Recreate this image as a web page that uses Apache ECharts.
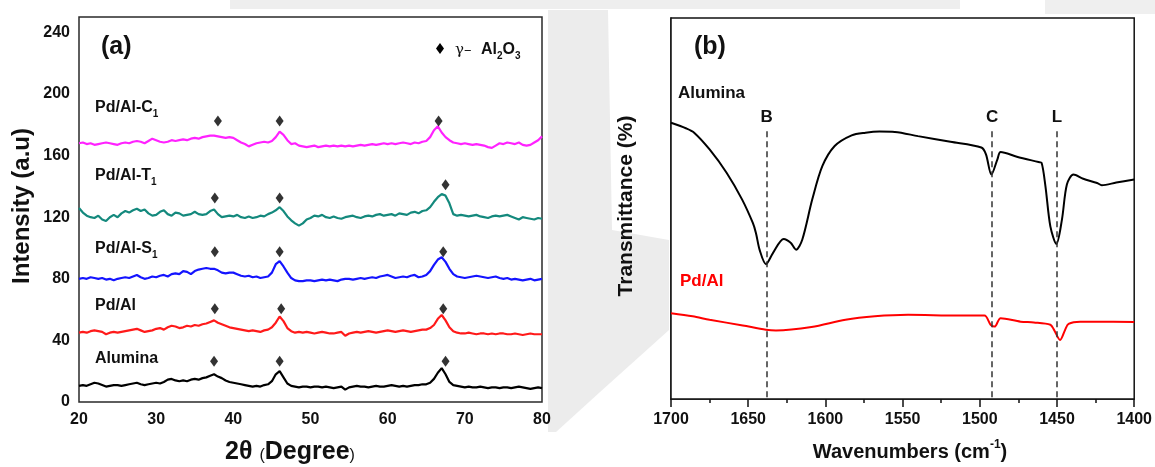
<!DOCTYPE html>
<html>
<head>
<meta charset="utf-8">
<script src="https://cdn.jsdelivr.net/npm/echarts@6/dist/echarts.min.js"></script>
<style>
  html, body { margin: 0; padding: 0; background: #ffffff; }
  #chart { width: 1155px; height: 467px; }
</style>
</head>
<body>
<div id="chart"></div>
<script>
// ---------- (a) XRD patterns: 2θ from 20° to 80°, one reading every 0.5° ----------
const angleStart = 20;
const angleStep = 0.5;

const xrdAlumina = [
  10.5, 11, 10.5, 11.5, 12.5, 12, 11, 10, 10.5, 11,
  11, 10.5, 11, 11.5, 12, 12.5, 11.5, 11, 11.5, 12,
  12.5, 12, 13, 14.5, 15, 14, 13.5, 14, 13.5, 14.5,
  15, 14.5, 15.5, 16, 17, 18, 16.5, 15.5, 14, 13,
  12.5, 12, 11.5, 11, 10.5, 10, 10.5, 10, 11, 11.5,
  13.5, 18, 20, 16, 12, 10.5, 10, 9.5, 10, 10,
  9.5, 10, 10, 9.5, 10, 9.5, 9, 9.5, 10, 8,
  9.5, 10, 10.5, 10, 10, 9.5, 10, 10.5, 10, 10,
  10.5, 11, 10.5, 10, 10.5, 10, 10.5, 11, 11, 11.5,
  11.5, 12.5, 15, 19, 22, 18, 13, 11, 10.5, 10,
  9.5, 10, 9.5, 9.5, 10, 9.5, 9, 9.5, 9.5, 9,
  9.5, 9.5, 9, 9.5, 10, 9.5, 9, 8.5, 9, 9.5,
  9
];

const xrdPdAl = [
  45, 45.5, 45, 46, 46.5, 46, 45.5, 44, 45, 45.5,
  45, 45.5, 46, 46.5, 47, 47.5, 46.5, 45.5, 46, 46.5,
  47.5, 48, 47, 48.5, 49.5, 49, 48, 48.5, 49.5, 49,
  50, 49.5, 50.5, 51, 52, 53, 51.5, 50.5, 49.5, 48.5,
  48, 47.5, 47, 46.5, 46, 46.5, 46, 45.5, 46.5, 47,
  48.5, 51.5, 55.5, 52.5, 48, 46, 45, 45.5, 45, 45.5,
  45, 44.5, 45, 45.5, 45, 44.5, 44.5, 45, 45.5, 43,
  44.5, 45, 45.5, 45, 45.5, 46, 45.5, 45, 45.5, 46,
  46.5, 46, 45.5, 46, 46.5, 46, 45.5, 46, 46.5, 47,
  47, 48, 50, 54, 56.5, 53, 48.5, 46, 45, 44.5,
  44.5, 45, 44.5, 44, 44.5, 44.5, 44, 44.5, 44, 44.5,
  44.5, 44, 44, 44.5, 44, 43.5, 44, 44.5, 44, 44,
  44
];

const xrdPdAlS1 = [
  80, 80.5, 80, 81, 80.5, 80, 80.5, 79.5, 80, 79,
  80, 80.5, 81, 80.5, 81.5, 82.5, 81, 80, 80.5, 81.5,
  81, 82, 82.5, 81.5, 83, 83.5, 83, 85, 84.5, 83,
  85, 86, 86.5, 87, 86.5, 86.5, 85.5, 84, 83.5, 84,
  84, 83, 82, 81.5, 82, 81, 81.5, 80.5, 81, 81.5,
  84, 89.5, 91.5, 88, 84, 80.5, 79, 78.5, 78.5, 79,
  79, 78.5, 79, 79.5, 79, 79.5, 79, 78.5, 79.5, 80,
  80, 79.5, 80, 80.5, 80, 80.5, 81, 80.5, 81.5, 82,
  82.5, 81.5, 80.5, 81, 81.5, 81, 82, 82.5, 81, 81.5,
  82.5, 85, 89, 92.5, 94, 91, 86.5, 83, 81.5, 81,
  80.5, 81, 81.5, 82, 81.5, 81, 80.5, 81, 81.5, 80.5,
  80, 80.5, 79.5, 80, 79.5, 79, 79.5, 80, 79, 79.5,
  80
];

const xrdPdAlT1 = [
  126, 123, 121, 120, 119.5, 121, 118.5, 117.5, 120, 121.5,
  120, 122.5, 124, 123, 124.5, 125.5, 124, 125, 122.5, 121,
  121.5, 123.5, 124.5, 122, 121, 123, 122.5, 121, 121.5, 122,
  123.5, 122, 121.5, 122, 124, 125, 122, 120, 120.5, 121,
  120.5, 121.5, 120, 119.5, 120.5, 119.5, 120, 121, 120.5, 122,
  123, 124.5, 126.5, 124, 120.5, 118, 116, 114.5, 116, 118.5,
  119.5, 121, 120.5, 121.5, 120, 119.5, 120.5, 119.5, 119, 120,
  120.5, 121, 120, 119.5, 120.5, 121, 120.5, 121.5, 122, 121,
  121.5, 122, 121, 122.5, 122, 121.5, 123, 123.5, 122.5, 124,
  124.5, 126.5, 130, 133, 135, 134, 129, 122, 121, 121.5,
  121, 120.5, 121, 121.5, 120.5, 120, 119.5, 120.5, 121, 120.5,
  121, 121.5, 120.5, 119.5, 118.5, 120, 119.5, 119, 118.5, 119.5,
  119
];

const xrdPdAlC1 = [
  168, 168.5, 167.5, 168, 167, 167.5, 168, 168.5, 168, 167.5,
  167, 168, 168.5, 168, 169, 169.5, 169, 168, 169.5, 171,
  170, 169, 168.5, 169, 170, 169.5, 170, 170.5, 170, 171,
  171.5, 171, 172, 172.5, 173, 173, 172.5, 172, 171.5, 172,
  171.5, 170, 168.5, 167.5, 166, 167, 168, 168.5, 169, 168.5,
  169.5, 172, 175.5, 173.5, 170, 167.5, 168, 166.5, 166, 165.5,
  166, 166.5, 165.5, 166, 166.5, 166, 166.5, 166, 166.5, 166,
  166.5, 166, 166.5, 167, 166.5, 167, 167.5, 167, 167.5, 168,
  167.5, 168, 167.5, 168, 168.5, 168, 167.5, 168.5, 168, 169,
  169.5, 172, 176.5, 179, 175, 172, 170, 168.5, 168, 167.5,
  168, 167.5, 167, 167.5, 167, 166.5, 165.5, 165, 166.5, 168,
  167.5, 168.5, 168, 167.5, 168.5, 167, 166.5, 167, 168.5, 170,
  172.5
];

// γ-Al2O3 reflections marked above each pattern: [2θ, intensity]
const markAlumina = [[37.5, 26.5], [46.0, 26.5], [67.5, 26.5]];
const markPdAl    = [[37.6, 60.5], [46.2, 60.5], [67.2, 60.5]];
const markPdAlS1  = [[37.6, 97.5], [46.0, 97.5], [67.2, 97.5]];
const markPdAlT1  = [[37.6, 132.5], [46.0, 132.5], [67.5, 141]];
const markPdAlC1  = [[38.0, 182.5], [46.0, 182.5], [66.6, 182.5]];

const xrdTicks = [20, 30, 40, 50, 60, 70, 80];
const intensityTicks = [0, 40, 80, 120, 160, 200, 240];

// ---------- (b) FTIR of adsorbed pyridine: [wavenumber, transmittance] ----------
const ftirAlumina = [
  [1700, 72.5], [1690, 71.0], [1685, 69.9], [1675, 65.5], [1664, 59.4],
  [1654, 52.4], [1647, 46.2], [1645, 43.6], [1642.5, 39.0], [1638.5, 35.4],
  [1634, 38.3], [1627, 42.0], [1622.5, 41.0], [1619, 39.2], [1615, 41.8],
  [1608.5, 52.4], [1602, 61.1], [1594, 66.4], [1583, 69.2], [1574, 69.9],
  [1565, 70.2], [1555, 70.1], [1540, 69.0], [1519, 67.5], [1499, 66.0],
  [1496, 64.2], [1492.5, 58.9], [1488.6, 62.9], [1486.5, 64.8], [1476, 63.6],
  [1462, 62.2], [1460, 62.0], [1457.5, 55.9], [1454.3, 45.3], [1450.4, 40.7],
  [1446.8, 47.1], [1443.6, 56.3], [1439.3, 58.9], [1433, 57.8], [1424, 56.7],
  [1421, 56.1], [1411.6, 56.8], [1400, 57.6]
];

const ftirPdAl = [
  [1700, 22.5], [1686, 21.7], [1675, 20.8], [1653.5, 19.3], [1638.5, 18.2],
  [1632, 18.0], [1609, 18.9], [1587, 20.8], [1568, 21.7], [1546.5, 22.1],
  [1514, 21.9], [1497, 21.9], [1493, 19.5], [1490.4, 19.0], [1486.5, 21.2],
  [1473.6, 20.3], [1465, 20.1], [1454.3, 19.5], [1452, 18.2], [1448, 15.5],
  [1444.7, 18.2], [1442.5, 19.7], [1435, 20.3], [1424, 20.3], [1400, 20.2]
];

// Brønsted (B), coordinated (C) and Lewis (L) pyridine bands
const bandNames = ['B', 'C', 'L'];
const bandWavenumbers = [1638, 1492, 1450];
const bandLineTop = 70.3;

const wavenumberTicks = [1700, 1650, 1600, 1550, 1500, 1450, 1400];

// ---------- styling ----------
const FONT = '"Liberation Sans", Arial, Helvetica, sans-serif';
const INK = '#111111';

function xrdSeries(name, values, color) {
  return {
    name: name,
    type: 'line',
    xAxisIndex: 0,
    yAxisIndex: 0,
    showSymbol: false,
    symbol: 'none',
    smooth: false,
    lineStyle: { color: color, width: 2.2 },
    data: values.map((v, i) => [angleStart + i * angleStep, v])
  };
}

const diamondData = [].concat(markAlumina, markPdAl, markPdAlS1, markPdAlT1, markPdAlC1);

function richLabel(x, y, parts, opts) {
  return {
    type: 'text',
    x: x,
    y: y,
    z: 10,
    rotation: (opts && opts.rotation) || 0,
    style: {
      text: parts,
      align: (opts && opts.align) || 'left',
      verticalAlign: 'middle',
      fill: INK,
      rich: (opts && opts.rich) || {}
    }
  };
}

const sampleRich = {
  m: { fontFamily: FONT, fontWeight: 'bold', fontSize: 16, fill: INK, lineHeight: 22 },
  s: { fontFamily: FONT, fontWeight: 'bold', fontSize: 10, fill: INK, lineHeight: 22, verticalAlign: 'bottom' }
};

const plainNumber = v => String(v);

const chart = echarts.init(document.getElementById('chart'), null, { renderer: 'canvas' });

const option = {
  backgroundColor: '#ffffff',
  animation: false,
  grid: [
    { left: 79, top: 17, width: 463, height: 385, show: true, borderColor: '#2a2a2a', borderWidth: 1.5, backgroundColor: '#ffffff', z: 1 },
    { left: 671, top: 18, width: 467, height: 381, show: true, borderColor: '#111111', borderWidth: 1.5, backgroundColor: '#ffffff', z: 1 }
  ],
  xAxis: [
    {
      gridIndex: 0, type: 'value', min: xrdTicks[0], max: xrdTicks[xrdTicks.length - 1], interval: 10,
      axisLine: { show: false }, axisTick: { show: false }, splitLine: { show: false },
      axisLabel: { margin: 10, formatter: plainNumber, fontFamily: FONT, fontWeight: 'bold', fontSize: 16, color: INK }
    },
    {
      gridIndex: 1, type: 'value', inverse: true,
      min: wavenumberTicks[wavenumberTicks.length - 1], max: wavenumberTicks[0], interval: 50,
      axisLine: { show: true, lineStyle: { color: '#111111', width: 1.5 } },
      axisTick: { show: true, inside: false, length: 8, lineStyle: { color: '#111111', width: 1.5 } },
      minorTick: { show: true, splitNumber: 2, length: 4, lineStyle: { color: '#111111', width: 1.5 } },
      splitLine: { show: false },
      axisLabel: { margin: 13, formatter: plainNumber, fontFamily: FONT, fontWeight: 'bold', fontSize: 16, color: INK }
    }
  ],
  yAxis: [
    {
      gridIndex: 0, type: 'value', min: intensityTicks[0], max: 250, interval: 40,
      axisLine: { show: false }, axisTick: { show: false }, splitLine: { show: false },
      axisLabel: { margin: 9, showMaxLabel: false, formatter: plainNumber, fontFamily: FONT, fontWeight: 'bold', fontSize: 16, color: INK }
    },
    {
      gridIndex: 1, type: 'value', min: 0, max: 100,
      axisLine: { show: true, lineStyle: { color: '#111111', width: 1.5 } },
      axisTick: { show: false }, axisLabel: { show: false }, splitLine: { show: false }
    }
  ],
  series: [
    xrdSeries('Alumina', xrdAlumina, '#000000'),
    xrdSeries('Pd/Al', xrdPdAl, '#ff1a1a'),
    xrdSeries('Pd/Al-S1', xrdPdAlS1, '#1414ff'),
    xrdSeries('Pd/Al-T1', xrdPdAlT1, '#14897d'),
    xrdSeries('Pd/Al-C1', xrdPdAlC1, '#ff22ff'),
    {
      name: 'γ-Al2O3', type: 'scatter', xAxisIndex: 0, yAxisIndex: 0,
      symbol: 'diamond', symbolSize: [8, 11],
      itemStyle: { color: '#000000' },
      data: diamondData, z: 5
    },
    {
      name: 'Alumina FTIR', type: 'line', xAxisIndex: 1, yAxisIndex: 1,
      showSymbol: false, symbol: 'none', smooth: 0.3,
      lineStyle: { color: '#000000', width: 2 },
      data: ftirAlumina,
      markLine: {
        silent: true, symbol: 'none', animation: false,
        lineStyle: { type: [6, 4], color: '#333333', width: 1.5 },
        label: {
          show: true, position: 'start', distance: 5,
          formatter: '{b}', fontFamily: FONT, fontWeight: 'bold', fontSize: 17, color: INK
        },
        data: bandWavenumbers.map((wn, i) => [
          { name: bandNames[i], coord: [wn, bandLineTop] },
          { coord: [wn, 0] }
        ])
      }
    },
    {
      name: 'Pd/Al FTIR', type: 'line', xAxisIndex: 1, yAxisIndex: 1,
      showSymbol: false, symbol: 'none', smooth: 0.3,
      lineStyle: { color: '#ff0000', width: 2 },
      data: ftirPdAl
    }
  ],
  graphic: [
    // soft grey backdrop between the two panels
    { type: 'polygon', z: -10, shape: { points: [[548, 10], [608, 10], [612, 230], [669, 240], [669, 330], [600, 392], [556, 432], [548, 432]] }, style: { fill: '#ececec' } },
    { type: 'rect', z: -10, shape: { x: 230, y: 0, width: 730, height: 9 }, style: { fill: '#eeeeee' } },
    { type: 'rect', z: -10, shape: { x: 1045, y: 0, width: 110, height: 14 }, style: { fill: '#efefef' } },

    // panel (a) annotations
    richLabel(101, 47, '{t|(a)}', { rich: { t: { fontFamily: FONT, fontWeight: 'bold', fontSize: 25, fill: INK } } }),
    { type: 'polygon', z: 10, shape: { points: [[440, 43], [444, 48.5], [440, 54], [436, 48.5]] }, style: { fill: '#000000' } },
    richLabel(455, 50, '{g|γ–  }{m|Al}{s|2}{m|O}{s|3}', {
      rich: {
        g: { fontFamily: 'DejaVu Serif, serif', fontSize: 15, fill: INK, lineHeight: 22 },
        m: { fontFamily: FONT, fontWeight: 'bold', fontSize: 16, fill: INK, lineHeight: 22 },
        s: { fontFamily: FONT, fontWeight: 'bold', fontSize: 10, fill: INK, lineHeight: 22, verticalAlign: 'bottom' }
      }
    }),
    richLabel(95, 108, '{m|Pd/Al-C}{s|1}', { rich: sampleRich }),
    richLabel(95, 176, '{m|Pd/Al-T}{s|1}', { rich: sampleRich }),
    richLabel(95, 249, '{m|Pd/Al-S}{s|1}', { rich: sampleRich }),
    richLabel(95, 306, '{m|Pd/Al}', { rich: sampleRich }),
    richLabel(95, 359, '{m|Alumina}', { rich: sampleRich }),
    richLabel(22, 206, '{t|Intensity (a.u)}', {
      align: 'center', rotation: Math.PI / 2,
      rich: { t: { fontFamily: FONT, fontWeight: 'bold', fontSize: 24, fill: INK } }
    }),
    richLabel(290, 452, '{m|2θ }{p|(}{m|Degree}{p|)}', {
      align: 'center',
      rich: {
        m: { fontFamily: FONT, fontWeight: 'bold', fontSize: 25, fill: INK, lineHeight: 30 },
        p: { fontFamily: FONT, fontSize: 16, fill: INK, lineHeight: 30, verticalAlign: 'bottom', padding: [0, 0, 3, 0] }
      }
    }),

    // panel (b) annotations
    richLabel(694, 47, '{t|(b)}', { rich: { t: { fontFamily: FONT, fontWeight: 'bold', fontSize: 25, fill: INK } } }),
    richLabel(678, 93, '{t|Alumina}', { rich: { t: { fontFamily: FONT, fontWeight: 'bold', fontSize: 17, fill: INK } } }),
    richLabel(680, 281, '{t|Pd/Al}', { rich: { t: { fontFamily: FONT, fontWeight: 'bold', fontSize: 17, fill: '#ff0000' } } }),
    richLabel(626, 206, '{t|Transmittance (%)}', {
      align: 'center', rotation: Math.PI / 2,
      rich: { t: { fontFamily: FONT, fontWeight: 'bold', fontSize: 21, fill: INK } }
    }),
    richLabel(910, 452, '{m|Wavenumbers (cm}{u|-1}{m|)}', {
      align: 'center',
      rich: {
        m: { fontFamily: FONT, fontWeight: 'bold', fontSize: 20, fill: INK, lineHeight: 26 },
        u: { fontFamily: FONT, fontWeight: 'bold', fontSize: 12, fill: INK, lineHeight: 26, verticalAlign: 'top' }
      }
    })
  ]
};

chart.setOption(option);
</script>
</body>
</html>
